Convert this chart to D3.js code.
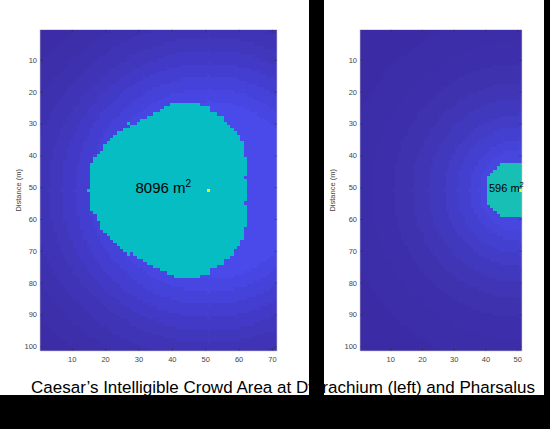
<!DOCTYPE html>
<html><head><meta charset="utf-8">
<script src="https://cdn.jsdelivr.net/npm/d3@7"></script>
<style>
html,body{margin:0;padding:0;background:#fff;}
svg{display:block;}
text{font-family:"Liberation Sans",Arial,Helvetica,sans-serif;}
</style></head>
<body>
<svg id="chart" width="550" height="429"></svg>
<script>
// ---------- DATA ----------
const titleText = "Caesar\u2019s Intelligible Crowd Area at Dyrrachium (left) and Pharsalus";
const yLabel = "Distance (m)";
const yTicks = [10,20,30,40,50,60,70,80,90,100];
const leftXTicks = [10,20,30,40,50,60,70];
const rightXTicks = [10,20,30,40,50];
const nRows = 101;
const leftCols = 71;
const rightCols = 51;
const speaker = [51, 51]; // [col,row]
const leftAreaLabel = "8096";
const rightAreaLabel = "596";

// Intelligible crowd region, per row: first row, start column, end column
const leftCrowdFirstRow = 24;
const leftCrowdStart = [40,38,37,35,33,31,30,28,26,24,23,22,21,20,20,19,18,17,17,16,16,16,16,16,16,16,16,15,16,16,16,16,16,16,17,18,18,19,19,19,20,21,22,23,24,25,26,29,30,32,33,35,37,39,41];
const leftCrowdEnd   = [48,51,51,53,55,55,56,57,58,59,60,60,61,61,61,61,61,62,62,62,62,62,62,61,62,62,62,62,62,62,62,61,62,62,62,62,62,62,62,61,61,61,61,60,60,59,58,58,57,55,55,53,51,51,48];
const leftCrowdExtra = [[27,30],[27,71]];
const rightCrowdFirstRow = 43;
const rightCrowdStart = [45,44,43,42,41,41,41,41,41,41,41,41,41,42,43,44,45];
const rightCrowdEnd   = [51,51,51,51,51,51,51,51,51,51,51,51,51,51,51,51,51];

// Background level bands (distance from speaker, m) and their colours
const leftBandLimits = [28,32,36,40,44,48,53,58,64,999];
const leftBandColors = ["#4a4aea","#4746e2","#4542d9","#433ecf","#423ac6","#4037bd","#3f34b6","#3e31af","#3d2eaa","#3c2ca6"];
const rightBandLimits = [13,16,20,24,29,34,40,47,56,999];
const rightBandColors = ["#4747e0","#4543d8","#4340cf","#423cc6","#4038bd","#3f35b5","#3e32af","#3d2fab","#3c2da8","#3b2ba5"];
const leftCrowdColor = "#06bdc4";
const rightCrowdColor = "#17bfb4";
const speakerColor = "#f9fb0e";

// ---------- DRAW ----------
const svg = d3.select("#chart");
const plotTop = 29.7, plotBottom = 351;

function crowdSet(firstRow, starts, ends, extra){
  const s = new Set();
  starts.forEach((st,i)=>{ for(let c=st;c<=ends[i];c++) s.add(c+","+(firstRow+i)); });
  (extra||[]).forEach(e=>s.add(e[0]+","+e[1]));
  return s;
}

function panel(opt){
  const x = d3.scaleLinear().domain([0.5, opt.cols+0.5]).range([opt.x0, opt.x1]);
  const y = d3.scaleLinear().domain([0.5, nRows+0.5]).range([plotTop, plotBottom]);
  const g = svg.append("g");
  const crowd = crowdSet(opt.firstRow, opt.starts, opt.ends, opt.extra);
  const cells = [];
  for(let r=1;r<=nRows;r++) for(let c=1;c<=opt.cols;c++){
    let col;
    if(c===speaker[0] && r===speaker[1]) col = speakerColor;
    else if(crowd.has(c+","+r)) col = opt.crowdColor;
    else {
      const d = Math.hypot(c-speaker[0], r-speaker[1]);
      const i = d3.bisectLeft(opt.limits, d);
      col = opt.colors[Math.min(i, opt.colors.length-1)];
    }
    cells.push({c, r, col});
  }
  g.append("g").attr("shape-rendering","crispEdges").selectAll("rect").data(cells).join("rect")
    .attr("x", d=>x(d.c-0.5)).attr("y", d=>y(d.r-0.5))
    .attr("width", d=>Math.min(x(d.c+0.5)+0.4, opt.x1)-x(d.c-0.5))
    .attr("height", d=>Math.min(y(d.r+0.5)+0.4, plotBottom)-y(d.r-0.5))
    .attr("fill", d=>d.col);

  // frame
  g.append("rect").attr("x",opt.x0).attr("y",plotTop).attr("width",opt.x1-opt.x0).attr("height",plotBottom-plotTop)
    .attr("fill","none").attr("stroke","#c8c8c8").attr("stroke-width",0.6);

  // axes (ticks inside)
  const ax = g.append("g").attr("transform",`translate(${opt.x0},0)`)
    .call(d3.axisLeft(y).tickValues(yTicks).tickSize(-3).tickPadding(3));
  const bx = g.append("g").attr("transform",`translate(0,${plotBottom})`)
    .call(d3.axisBottom(x).tickValues(opt.xticks).tickSize(-3).tickPadding(6));
  const tx = g.append("g").attr("transform",`translate(0,${plotTop})`)
    .call(d3.axisTop(x).tickValues(opt.xticks).tickSize(-3).tickFormat(""));
  const rx = g.append("g").attr("transform",`translate(${opt.x1},0)`)
    .call(d3.axisRight(y).tickValues(yTicks).tickSize(-3).tickFormat(""));
  [ax,bx,tx,rx].forEach(a=>{
    a.select(".domain").remove();
    a.selectAll(".tick line").attr("stroke","#333").attr("stroke-opacity",0.7).attr("stroke-width",0.6);
    a.selectAll(".tick text").attr("fill","#444").attr("font-size",7.5)
      .attr("font-family","'Liberation Sans',Arial,sans-serif");
  });

  // y label
  g.append("text").attr("transform",`translate(${opt.yLabX},${(plotTop+plotBottom)/2}) rotate(-90)`)
    .attr("text-anchor","middle").attr("font-size",7.5).attr("fill","#444").text(yLabel);

  // area label
  const t = g.append("text").attr("x",opt.labX).attr("y",opt.labY).attr("font-size",opt.labSize).attr("fill","#000");
  t.append("tspan").text(opt.label+" m");
  t.append("tspan").attr("dy",-opt.labSize*0.4).attr("font-size",opt.labSize*0.68).text("2");
}

panel({cols:leftCols, x0:40, x1:277, xticks:leftXTicks, firstRow:leftCrowdFirstRow,
  starts:leftCrowdStart, ends:leftCrowdEnd, extra:leftCrowdExtra, crowdColor:leftCrowdColor,
  limits:leftBandLimits, colors:leftBandColors, yLabX:20.5, label:leftAreaLabel, labX:135.5, labY:192.5, labSize:15});
panel({cols:rightCols, x0:360, x1:522, xticks:rightXTicks, firstRow:rightCrowdFirstRow,
  starts:rightCrowdStart, ends:rightCrowdEnd, extra:[], crowdColor:rightCrowdColor,
  limits:rightBandLimits, colors:rightBandColors, yLabX:334.5, label:rightAreaLabel, labX:489, labY:191.5, labSize:11});

// title
svg.append("text").attr("x",31).attr("y",393).attr("font-size",16.3).attr("fill","#000")
  .attr("textLength",504).attr("lengthAdjust","spacingAndGlyphs").text(titleText);

// black masks present in the picture
svg.append("rect").attr("x",309).attr("y",0).attr("width",15).attr("height",395).attr("fill","#000");
svg.append("rect").attr("x",544).attr("y",0).attr("width",6).attr("height",395).attr("fill","#000");
svg.append("rect").attr("x",0).attr("y",395).attr("width",550).attr("height",34).attr("fill","#000");
</script>
</body></html>
